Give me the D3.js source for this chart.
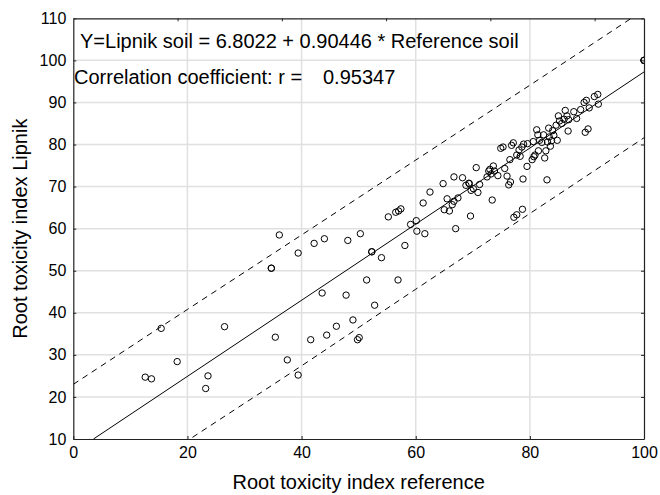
<!DOCTYPE html>
<html><head><meta charset="utf-8">
<script src="https://cdn.jsdelivr.net/npm/d3@7"></script>
<style>body{margin:0;background:#fff}svg{display:block}text{font-family:"Liberation Sans",Arial,sans-serif;fill:#000}</style>
</head><body><div id="chart"></div>
<script>
// Data
const refSoil = [12.6,13.7,15.4,18.2,23.2,23.6,26.5,34.7,34.7,35.4,36.1,37.5,39.4,39.4,41.6,42.2,43.6,44.0,44.4,46.1,47.8,48.1,49.0,49.8,50.1,50.3,51.4,52.3,52.3,52.8,54.0,55.2,56.5,57.0,57.4,56.9,58.1,59.1,60.1,60.2,61.3,61.6,62.5,64.8,65.0,65.5,65.9,66.4,66.7,66.7,67.0,67.4,68.2,68.8,69.3,69.4,69.6,69.7,70.1,70.6,70.9,71.2,72.5,72.8,73.0,73.2,73.4,73.6,73.8,74.4,74.9,75.3,75.6,76.0,76.3,76.5,76.6,76.8,77.1,77.2,77.7,77.7,78.1,78.3,78.6,78.7,78.8,78.9,79.5,79.6,80.4,80.6,80.7,80.9,81.2,81.4,81.5,81.7,82.1,82.4,82.6,82.8,83.0,83.1,83.3,83.4,83.6,83.8,84.0,84.2,84.6,84.8,85.0,85.2,85.6,86.0,86.2,86.5,86.7,86.8,87.7,88.2,88.9,89.5,89.7,89.9,90.2,90.4,91.3,91.9,92.0,100,100,100];
const lipnikSoil = [24.7,24.3,36.3,28.4,22.0,25.0,36.7,50.6,50.6,34.2,58.5,28.8,54.2,25.2,33.6,56.5,44.7,57.6,34.7,36.8,44.2,57.2,38.3,33.6,34.1,58.8,47.8,54.5,54.5,41.8,53.1,62.8,63.9,64.2,64.7,47.8,56.0,61.0,61.9,59.4,66.1,58.8,68.7,70.7,64.5,67.1,64.2,65.7,72.3,66.5,60.0,67.3,72.1,70.3,70.8,70.7,63.0,69.1,69.5,74.5,68.6,70.5,72.3,73.7,74.1,73.0,66.8,74.9,73.7,72.6,79.1,79.4,74.3,72.5,70.4,76.4,71.1,79.8,80.4,62.7,63.3,77.5,78.7,77.2,79.4,64.6,71.8,80.1,74.8,80.2,76.4,80.7,77.1,77.5,83.5,82.3,78.5,81.0,80.5,82.3,76.8,78.5,71.6,80.6,83.9,81.8,79.6,80.9,83.3,82.2,84.6,81.0,86.8,85.6,85.0,86.0,88.1,86.8,83.2,85.9,87.8,86.2,88.3,90.0,82.9,90.5,83.7,88.7,91.4,91.9,89.6,100,100,100];
// Regression
const intercept = 6.8022, slope = 0.90446;
// Prediction band (dashed)
const bandX = [0, 20, 40, 60, 80, 100];
const bandUpper = [23.0, 40.8, 58.5, 76.3, 94.1, 112.0];
const bandLower = [-8.4, 9.6, 27.4, 45.6, 63.6, 81.6];
// Axes
const xTicks = [0, 20, 40, 60, 80, 100];
const yTicks = [10, 20, 30, 40, 50, 60, 70, 80, 90, 100, 110];
const topTicks = [18.27, 36.54, 54.81, 73.08, 91.35];
const eqText = "Y=Lipnik soil = 6.8022 + 0.90446 * Reference soil";
const corrLabel = "Correlation coefficient: r =";
const corrValue = "0.95347";
const xTitle = "Root toxicity index reference";
const yTitle = "Root toxicity index Lipnik";

const W = 660, H = 495;
const L = 73.3, R = 644, T = 18.3, B = 439;
const svg = d3.select("#chart").append("svg").attr("width", W).attr("height", H);
const x = d3.scaleLinear().domain([0, 100]).range([L, R]);
const y = d3.scaleLinear().domain([10, 110]).range([B, T]);

svg.append("defs").append("clipPath").attr("id", "clip")
  .append("rect").attr("x", L).attr("y", T).attr("width", R - L).attr("height", B - T);

// grid
const g = svg.append("g");
g.selectAll(".gx").data(xTicks.slice(1, -1)).join("line")
  .attr("x1", d => x(d)).attr("x2", d => x(d)).attr("y1", T).attr("y2", B)
  .attr("stroke", "#e0e0e0").attr("stroke-width", 1.5);
g.selectAll(".gy").data(yTicks.slice(1, -1)).join("line")
  .attr("y1", d => y(d)).attr("y2", d => y(d)).attr("x1", L).attr("x2", R)
  .attr("stroke", "#e0e0e0").attr("stroke-width", 1.5);

// axes
const axB = svg.append("g").attr("transform", `translate(0,${B})`)
  .call(d3.axisBottom(x).tickValues(xTicks).tickSize(-3).tickPadding(8).tickSizeOuter(0));
const axL = svg.append("g").attr("transform", `translate(${L},0)`)
  .call(d3.axisLeft(y).tickValues(yTicks).tickSize(-3).tickPadding(7).tickSizeOuter(0));
const axR = svg.append("g").attr("transform", `translate(${R},0)`)
  .call(d3.axisRight(y).tickValues(yTicks).tickSize(-3).tickFormat("").tickSizeOuter(0));
const axT = svg.append("g").attr("transform", `translate(0,${T})`)
  .call(d3.axisTop(x).tickValues(topTicks).tickSize(-3).tickFormat("").tickSizeOuter(0));
[axB, axL, axR, axT].forEach(a => {
  a.select(".domain").attr("stroke", "#222").attr("stroke-width", 1.2);
  a.selectAll(".tick line").attr("stroke", "#222");
  a.selectAll("text").attr("font-size", 16).attr("font-family", '"Liberation Sans", Arial, sans-serif').attr("fill", "#000");
});

const plot = svg.append("g").attr("clip-path", "url(#clip)");
// regression line
const x0 = (10 - intercept) / slope;
plot.append("line").attr("x1", x(x0)).attr("y1", y(intercept + slope * x0))
  .attr("x2", x(100)).attr("y2", y(intercept + slope * 100))
  .attr("stroke", "#000").attr("stroke-width", 1);
const band = d3.line().x(d => x(d[0])).y(d => y(d[1])).curve(d3.curveMonotoneX);
plot.append("path").attr("d", band(bandX.map((v, i) => [v, bandUpper[i]])))
  .attr("fill", "none").attr("stroke", "#000").attr("stroke-dasharray", "6,5");
plot.append("path").attr("d", band(bandX.map((v, i) => [v, bandLower[i]])))
  .attr("fill", "none").attr("stroke", "#000").attr("stroke-dasharray", "6,5");
// points
plot.selectAll("circle").data(refSoil.map((v, i) => [v, lipnikSoil[i]])).join("circle")
  .attr("cx", d => x(d[0])).attr("cy", d => y(d[1])).attr("r", 3.2)
  .attr("fill", "none").attr("stroke", "#000").attr("stroke-width", 1);

// annotations
svg.append("text").attr("x", 80).attr("y", 48).attr("font-size", 20).text(eqText);
svg.append("text").attr("x", 74).attr("y", 84).attr("font-size", 20).text(corrLabel);
svg.append("text").attr("x", 323).attr("y", 84).attr("font-size", 20).text(corrValue);

// titles
svg.append("text").attr("x", (L + R) / 2).attr("y", 489).attr("text-anchor", "middle")
  .attr("font-size", 20).text(xTitle);
svg.append("text").attr("transform", `translate(27,${(T + B) / 2}) rotate(-90)`)
  .attr("text-anchor", "middle").attr("font-size", 20).text(yTitle);
</script></body></html>
